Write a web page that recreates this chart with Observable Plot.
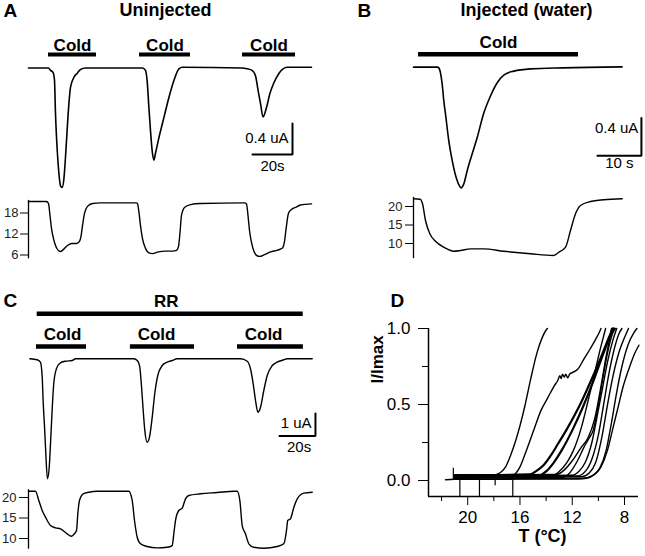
<!DOCTYPE html>
<html><head><meta charset="utf-8">
<script src="https://cdn.jsdelivr.net/npm/d3@7"></script>
<script src="https://cdn.jsdelivr.net/npm/@observablehq/plot@0.6"></script>
<style>
body{margin:0;background:#fff}
#fig{position:relative;width:645px;height:556px}
#fig svg{position:absolute;left:0;top:0}
</style></head><body><div id="fig"></div>
<script>
// ---------- Panel A (uninjected): current (uA) and bath temperature (°C) vs time (s)
const aCurrent = [[0,0],[10,0],[11,-0.03],[12.3,-0.06],[13,-0.16],[13.5,-0.59],[14.3,-1.03],[15.2,-1.36],[16,-1.52],[16.8,-1.54],[17.7,-1.43],[18.5,-1.15],[19.3,-0.81],[20.2,-0.46],[21,-0.25],[22.7,-0.12],[24.3,-0.07],[26,-0.02],[28.5,0],[57,0],[58.5,-0.03],[59.3,-0.16],[60.2,-0.51],[61,-0.81],[61.8,-1.06],[62.7,-1.19],[63.5,-1.10],[65.2,-0.90],[67.7,-0.64],[70.2,-0.38],[72.7,-0.16],[75.2,-0.01],[77,0.01],[106.8,0],[109.3,-0.01],[111.8,-0.03],[113.5,-0.10],[114.8,-0.29],[116,-0.46],[117.3,-0.63],[119,-0.51],[120.7,-0.33],[122.7,-0.19],[125.2,-0.07],[126.8,-0.02],[129.3,0.01],[141.5,0.01]];
const aTemp = [[0,21.3],[9,21.3],[10,20.7],[10.75,17.3],[11.5,13.6],[12.5,10.7],[13.5,8.7],[14.75,7.4],[16,7.0],[17.5,7.6],[19.5,8.7],[21.5,9.3],[24,9.3],[25.5,9.9],[26.25,11.3],[27,14.4],[28,17.9],[29.5,19.9],[32,20.7],[36,20.9],[54,20.9],[54.5,20.7],[55.25,18.1],[56,14.4],[57,10.7],[58.5,7.9],[60,6.7],[62,6.4],[65,6.9],[68.5,7.1],[72,7.1],[74,7.3],[75,8.4],[75.75,12.4],[76.5,17.3],[78,19.6],[81,20.4],[86,20.7],[108,20.9],[109,20.6],[109.75,17.3],[110.5,13.0],[111.5,9.6],[112.75,7.0],[114,5.9],[115.5,5.6],[118,6.1],[121,6.9],[124.5,7.4],[127,8.0],[128,9.9],[129,14.4],[130,17.9],[131.5,19.0],[133.5,19.6],[136,20.3],[141.5,20.6]];
const aCold = [[10,34],[55.5,81],[107,133.5]];
const aTempTicks = [18,12,6];

// ---------- Panel B (injected, water)
const bCurrent = [[0,0],[5.39,0],[5.8,-0.01],[6.14,-0.063],[6.52,-0.179],[6.89,-0.358],[7.27,-0.495],[8.02,-0.779],[8.8,-0.989],[9.77,-1.179],[10.34,-1.247],[10.84,-1.277],[11.43,-1.235],[12.2,-1.095],[13.34,-0.916],[14.48,-0.744],[15.91,-0.495],[17.5,-0.305],[19.02,-0.165],[20.52,-0.084],[22.8,-0.042],[26.6,-0.018],[34.1,-0.007],[47.4,0.003]];
const bTemp = [[0,22.08],[1.5,21.97],[2.05,20.73],[2.73,16.22],[3.71,12.62],[5.0,10.62],[6.89,9.0],[9.16,7.92],[10.68,8.11],[12.95,8.56],[15.98,8.56],[20.52,7.92],[26.6,7.22],[31.75,6.76],[33.02,7.65],[34.55,9.0],[35.68,13.51],[36.82,18.02],[37.95,20.27],[40.23,21.35],[43.25,21.81],[47.43,22.08]];
const bCold = [[1.14,37.5]];
const bTempTicks = [20,15,10];

// ---------- Panel C (ruthenium red)
const cCurrent = [[0,0],[4.1,-0.044],[5.9,-0.151],[6.9,-0.818],[7.4,-1.853],[8.2,-3.04],[8.9,-4.22],[9.8,-5.33],[10.8,-4.82],[11.5,-3.78],[12.4,-2.30],[13.3,-1.11],[14.8,-0.444],[16.7,-0.196],[19.8,-0.107],[23.6,-0.076],[25.4,0],[57.8,0],[59.7,-0.076],[61.1,-0.373],[62.1,-1.262],[63.0,-2.30],[63.9,-3.19],[65.2,-3.71],[66.5,-3.48],[68.0,-2.60],[69.4,-1.56],[71.1,-0.742],[73.6,-0.298],[76.3,-0.151],[79.1,-0.076],[81.9,0],[117.1,0],[120.8,-0.107],[122.6,-0.444],[124.1,-1.11],[125.4,-1.853],[126.7,-2.373],[128.2,-2.151],[130.0,-1.409],[131.9,-0.742],[134.7,-0.298],[137.4,-0.151],[141.1,-0.044],[143.0,0],[156.9,0]];
const cTemp = [[-0.7,21.54],[3.17,21.54],[5.0,19.27],[6.89,16.83],[8.72,15.2],[11.5,13.17],[14.28,12.61],[17.06,12.37],[20.78,11.15],[23.0,10.56],[24.44,10.98],[25.94,11.95],[26.67,16.02],[27.61,19.27],[29.67,20.9],[32.78,21.29],[37.44,21.54],[55.0,21.54],[56.89,19.27],[58.17,14.39],[59.67,10.32],[61.5,8.71],[65.22,8.05],[70.78,7.73],[76.33,7.88],[79.11,8.29],[80.0,11.15],[80.94,14.39],[82.78,16.83],[84.67,17.39],[86.5,19.68],[88.33,20.49],[94.83,20.9],[104.1,21.22],[113.3,21.54],[115.2,21.54],[116.7,19.27],[118.0,13.17],[119.8,11.15],[121.7,8.71],[124.4,7.88],[130.0,7.63],[137.4,8.05],[141.1,8.71],[142.6,11.95],[143.3,14.39],[144.8,14.8],[146.7,17.63],[148.6,19.68],[152.2,21.05],[156.9,21.29]];
const cCold = [[3.7,31.5],[55.9,91.5],[115.4,152.0]];
const cRR = [[4.1,151.9]];
const cTempTicks = [20,15,10];

// ---------- Panel D: normalized current vs temperature, one curve per oocyte
const dCurves = [
  [[21.0,0.03],[18.2,0.03],[17.8,0.04],[17.4,0.06],[17.1,0.09],[16.7,0.17],[16.3,0.27],[16.0,0.36],[15.6,0.5],[15.2,0.66],[14.7,0.84],[14.3,0.94],[14.0,0.99],[13.9,1.0]],
  [[21.0,0.02],[16.6,0.03],[16.3,0.05],[16.0,0.09],[15.5,0.2],[14.95,0.33],[14.4,0.46],[13.9,0.54],[13.4,0.62],[13.1,0.66],[12.95,0.69],[12.85,0.67],[12.75,0.70],[12.6,0.68],[12.5,0.70],[12.35,0.675],[12.2,0.70],[12.0,0.71],[11.6,0.73],[11.1,0.80],[10.6,0.87],[10.2,0.93],[9.9,0.98],[9.8,1.0]],
  [[21.0,0.035],[15.2,0.04],[14.8,0.06],[14.2,0.1],[13.6,0.17],[13.1,0.24],[12.4,0.34],[11.4,0.5],[10.6,0.65],[9.85,0.8],[9.2,0.94],[8.9,1.0]],
  [[21.0,0.025],[14.6,0.03],[14.0,0.06],[13.4,0.12],[12.8,0.2],[12.0,0.33],[11.2,0.48],[10.4,0.65],[9.6,0.84],[9.0,0.97],[8.8,1.0]],
  [[21.0,0.02],[13.6,0.03],[13.0,0.06],[12.4,0.12],[11.9,0.2],[11.3,0.35],[10.8,0.52],[10.3,0.7],[9.9,0.85],[9.6,0.95],[9.45,1.0]],
  [[21.0,0.015],[12.8,0.02],[12.2,0.05],[11.6,0.13],[11.1,0.22],[10.7,0.28],[10.4,0.33],[10.1,0.45],[9.7,0.65],[9.3,0.84],[8.9,0.97],[8.7,1.0]],
  [[21.0,0.03],[12.0,0.035],[11.5,0.06],[11.0,0.12],[10.5,0.25],[10.1,0.42],[9.7,0.6],[9.3,0.78],[8.9,0.92],[8.6,1.0]],
  [[21.0,0.025],[11.6,0.03],[11.0,0.06],[10.5,0.14],[10.0,0.3],[9.6,0.5],[9.2,0.7],[8.8,0.86],[8.4,0.97],[8.2,1.0]],
  [[21.0,0.02],[11.3,0.025],[10.7,0.05],[10.2,0.12],[9.7,0.3],[9.3,0.5],[8.9,0.68],[8.4,0.85],[7.9,0.96],[7.7,1.0]],
  [[21.7,0.005],[21.0,0.008],[11.5,0.01],[10.9,0.015],[10.3,0.04],[9.8,0.09],[9.3,0.2],[8.9,0.34],[8.5,0.48],[8.1,0.62],[7.6,0.75],[7.2,0.84],[6.9,0.89]],
  [[21.0,0.01],[11.2,0.015],[10.5,0.03],[9.9,0.08],[9.4,0.2],[9.0,0.38],[8.6,0.58],[8.2,0.75],[7.7,0.9],[7.3,0.97],[7.05,1.0]],
  [[21.0,0.035],[13.2,0.04],[12.6,0.07],[12.0,0.13],[11.3,0.22],[10.8,0.28],[10.3,0.4],[9.8,0.62],[9.4,0.82],[9.1,0.95],[9.0,1.0]]
];
const dThick = [2, 3]; // indices of the heavier traces
const dMarks = [[21.1,0.0,0.08],[20.6,0.03,-0.105],[19.1,0.03,-0.105],[16.55,0.03,-0.105],[17.9,0.0,-0.035]];
const dXTicks = [20,16,12,8], dXMinor = [22,18,14,10];
const dYTicks = [0,0.5,1], dYMinor = [0.25,0.75];

// scale bars: [seconds, microamps]
const scaleA = [20, 0.4], scaleB = [10, 0.4], scaleC = [20, 1];

// ---------- rendering
const fig = document.getElementById("fig");
const FONT = "'Liberation Sans', Arial, Helvetica, sans-serif";
const X = d => d[0], Y = d => d[1];
function add(opts) {
  const svg = Plot.plot(Object.assign({
    width: 645, height: 556, marginTop: 0, marginRight: 0, marginBottom: 0, marginLeft: 0,
    style: {background: "transparent", fontFamily: FONT, overflow: "visible", color: "#000"}
  }, opts));
  fig.appendChild(svg);
}
function lbl(text, dx, dy, size, opts = {}) {
  return Plot.text([text], Object.assign({frameAnchor: "top-left", dx, dy, lineAnchor: "bottom",
    textAnchor: "start", fontSize: size, fontWeight: "bold"}, opts));
}
function scaleBar(sb, t, i, w = 2) {
  return Plot.line([[t - sb[0], i], [t, i], [t, i + sb[1]]], {x: X, y: Y, strokeWidth: w, strokeLinejoin: "miter"});
}
function tempPanel(data, ticks, xs, ys, left, tickSize, pad) {
  add({
    marginLeft: left,
    x: Object.assign({axis: null}, xs),
    y: Object.assign({axis: null}, ys),
    marks: [
      Plot.ruleX([xs.domain[0]], {y1: ys.domain[0], y2: ys.domain[1], strokeWidth: 1.3}),
      Plot.axisY({ticks, tickSize, tickPadding: pad, fontSize: 13, fill: "#222", label: null}),
      Plot.line(data, {x: X, y: Y, strokeWidth: 1.4, curve: "monotone-x"})
    ]
  });
}

// Panel A
const axA = {domain: [0, 145], range: [28, 318]};
const lvA = 0.174;
add({
  x: Object.assign({axis: null}, axA),
  y: {axis: null, domain: [-1.7, 0.9], range: [199.25, -2.25]},
  marks: [
    Plot.line(aCurrent, {x: X, y: Y, strokeWidth: 1.6, curve: "monotone-x"}),
    Plot.ruleY(aCold, {x1: X, x2: Y, y: () => lvA, strokeWidth: 4}),
    Plot.text(aCold, {x: d => (d[0] + d[1]) / 2, y: () => lvA, dy: -4, text: () => "Cold", lineAnchor: "bottom", fontSize: 17, fontWeight: "bold"}),
    scaleBar(scaleA, 132, -1.116),
    Plot.text([`${scaleA[1]} uA`], {x: () => 130, y: () => -0.974, textAnchor: "end", lineAnchor: "bottom", fontSize: 15}),
    Plot.text([`${scaleA[0]}s`], {x: () => 122, y: () => -1.323, lineAnchor: "bottom", fontSize: 15}),
    lbl("A", 3, 16, 19),
    lbl("Uninjected", 165, 15, 18, {textAnchor: "middle"})
  ]
});
tempPanel(aTemp, aTempTicks, axA, {domain: [4.9, 21.6], range: [258.35, 199.9]}, 28, 8, 2);

// Panel B
const axB = {domain: [0, 52], range: [413, 641.8]};
const lvB = 0.137;
add({
  x: Object.assign({axis: null}, axB),
  y: {axis: null, domain: [-1.4, 0.7], range: [199, 0.5]},
  marks: [
    Plot.line(bCurrent, {x: X, y: Y, strokeWidth: 1.6, curve: "monotone-x"}),
    Plot.ruleY(bCold, {x1: X, x2: Y, y: () => lvB, strokeWidth: 4.5}),
    Plot.text(bCold, {x: d => (d[0] + d[1]) / 2, y: () => lvB, dy: -6, text: () => "Cold", lineAnchor: "bottom", fontSize: 17, fontWeight: "bold"}),
    scaleBar(scaleB, 51.8, -0.937),
    Plot.text([`${scaleB[1]} uA`], {x: () => 51.1, y: () => -0.695, textAnchor: "end", lineAnchor: "bottom", fontSize: 15}),
    Plot.text([`${scaleB[0]} s`], {x: () => 46.8, y: () => -1.063, lineAnchor: "bottom", fontSize: 15}),
    lbl("B", 357, 16, 19),
    lbl("Injected (water)", 526, 15, 18, {textAnchor: "middle"})
  ]
});
tempPanel(bTemp, bTempTicks, axB, {domain: [5.9, 22.5], range: [258.2, 196.75]}, 413, 8, 3);

// Panel C
const axC = {domain: [-0.72, 160], range: [28, 317.3]};
const lvC = 0.547, lvRR = 2.0;
add({
  x: Object.assign({axis: null}, axC),
  y: {axis: null, domain: [-5.6, 3.0], range: [484.3, 290.8]},
  marks: [
    Plot.line(cCurrent, {x: X, y: Y, strokeWidth: 1.4, curve: "monotone-x"}),
    Plot.ruleY(cCold, {x1: X, x2: Y, y: () => lvC, strokeWidth: 4.5}),
    Plot.text(cCold, {x: d => d[0] + 14.5, y: () => lvC, dy: -6, text: () => "Cold", lineAnchor: "bottom", fontSize: 17, fontWeight: "bold"}),
    Plot.ruleY(cRR, {x1: X, x2: Y, y: () => lvRR, strokeWidth: 4.5}),
    Plot.text(cRR, {x: d => (d[0] + d[1]) / 2, y: () => lvRR, dx: -4, dy: -7, text: () => "RR", lineAnchor: "bottom", fontSize: 17, fontWeight: "bold"}),
    scaleBar(scaleC, 158.7, -3.43),
    Plot.text([`${scaleC[1]} uA`], {x: () => 156.5, y: () => -3.09, textAnchor: "end", lineAnchor: "bottom", fontSize: 15}),
    Plot.text([`${scaleC[0]}s`], {x: () => 149.6, y: () => -4.16, lineAnchor: "bottom", fontSize: 15}),
    lbl("C", 3, 306, 19)
  ]
});
tempPanel(cTemp, cTempTicks, axC, {domain: [7.4, 21.9], range: [548.7, 489.2]}, 28, 9, 3);

// Panel D
add({
  marginLeft: 428, marginTop: 328, marginRight: 7, marginBottom: 60,
  x: {axis: null, domain: [23, 6.9], range: [428, 638.4]},
  y: {axis: null, domain: [-0.105, 1.0], range: [496, 328]},
  marks: [
    Plot.ruleX([23], {strokeWidth: 1.5}),
    Plot.ruleY([-0.105], {strokeWidth: 1.5}),
    Plot.axisY({ticks: dYTicks, tickFormat: d3.format(".1f"), tickSize: 10, tickPadding: 8, fontSize: 17, label: null}),
    Plot.axisY({ticks: dYMinor, tickFormat: () => "", tickSize: 6, label: null}),
    Plot.axisX({ticks: dXTicks, tickSize: 9, tickPadding: 5, fontSize: 17, label: null}),
    Plot.axisX({ticks: dXMinor, tickFormat: () => "", tickSize: 5, label: null}),
    Plot.ruleX(dMarks, {x: d => d[0], y1: d => d[1], y2: d => d[2], strokeWidth: 1.2}),
    ...dCurves.map((c, k) => Plot.line(c, {x: X, y: Y, strokeWidth: dThick.includes(k) ? 2.2 : 1.4, curve: "monotone-x"})),
    lbl("D", -38, -22, 19),
    Plot.text(["I/Imax"], {frameAnchor: "left", dx: -51, dy: -29, rotate: -90, fontSize: 17, fontWeight: "bold"}),
    Plot.text(["T (°C)"], {frameAnchor: "bottom", dx: 9, dy: 45, lineAnchor: "bottom", fontSize: 18, fontWeight: "bold"})
  ]
});
</script>
</body></html>
